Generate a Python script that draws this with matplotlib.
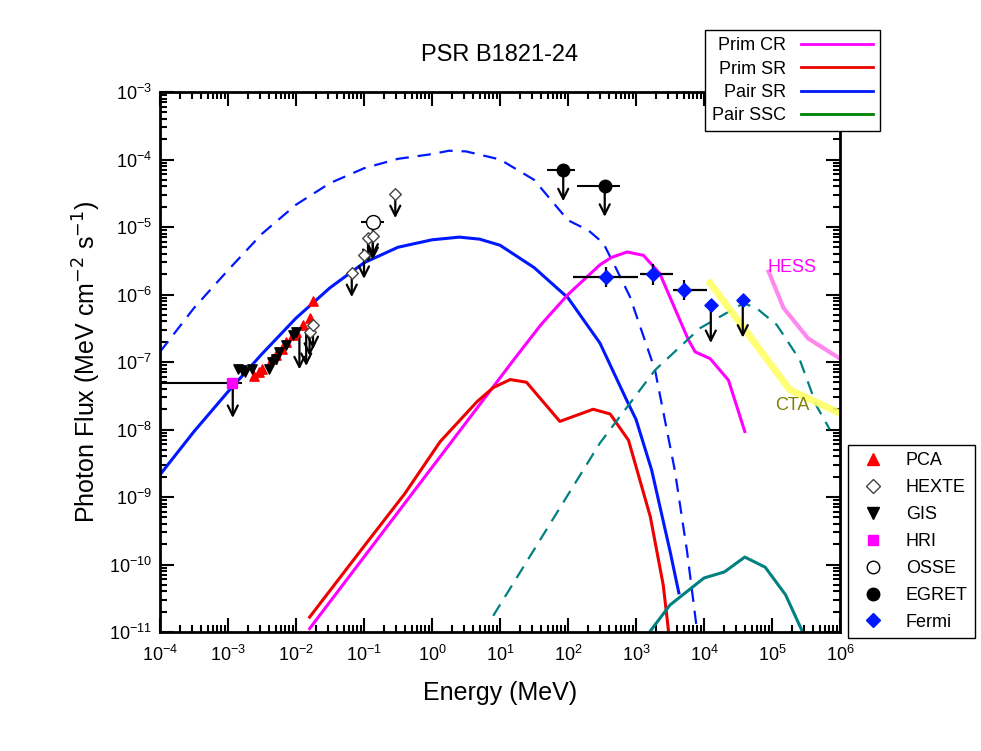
import numpy as np
import matplotlib
matplotlib.use("Agg")
import matplotlib.pyplot as plt
from matplotlib.lines import Line2D

plt.rcParams['font.family'] = 'Liberation Sans'
# model curves: log10(E/MeV), log10(flux)
pair_sr_x = [-4, -3.5, -3, -2.5, -2, -1.5, -1, -0.5, 0, 0.4, 0.7, 1, 1.5, 2, 2.47, 2.86, 3.0, 3.23, 3.5, 3.63]
pair_sr_y = [-8.67, -8.03, -7.44, -6.88, -6.35, -5.9, -5.53, -5.3, -5.19, -5.15, -5.18, -5.27, -5.6, -6.05, -6.72, -7.56, -7.85, -8.6, -9.8, -10.42]
pair_sr2_x = [-4, -3.5, -3, -2.5, -2, -1.5, -1, -0.5, 0, 0.25, 0.5, 1, 1.5, 2, 2.3, 2.52, 2.7, 2.91, 3.28, 3.57, 3.75, 3.9]
pair_sr2_y = [-6.85, -6.2, -5.64, -5.1, -4.67, -4.35, -4.13, -3.99, -3.92, -3.87, -3.88, -4.0, -4.3, -4.9, -5.05, -5.24, -5.6, -6.03, -7.12, -8.6, -9.8, -11.0]
prim_cr_x = [-1.8, 1.2, 1.6, 2.0, 2.47, 2.64, 2.87, 3.11, 3.35, 3.77, 3.87, 4.09, 4.36, 4.6]
prim_cr_y = [-10.95, -6.97, -6.45, -6.0, -5.56, -5.45, -5.37, -5.42, -5.69, -6.67, -6.85, -6.95, -7.27, -8.03]
prim_sr_x = [-1.8, -1.0, -0.4, 0.12, 0.66, 0.9, 1.15, 1.39, 1.88, 2.37, 2.62, 2.89, 3.21, 3.4, 3.48]
prim_sr_y = [-10.78, -9.73, -8.95, -8.18, -7.59, -7.38, -7.26, -7.30, -7.88, -7.70, -7.77, -8.16, -9.29, -10.3, -11.0]
ssc_d_x = [0.9, 2.47, 3.28, 3.94, 4.58, 4.77, 5.07, 5.41, 5.66, 5.85]
ssc_d_y = [-10.76, -8.2, -7.12, -6.5, -6.13, -6.2, -6.45, -6.97, -7.66, -8.0]
ssc_x = [3.2, 3.5, 4, 4.3, 4.6, 4.9, 5.2, 5.45]
ssc_y = [-11, -10.6, -10.2, -10.11, -9.89, -10.04, -10.45, -11]
cta_x = [4.09, 5.26, 6.0]
cta_y = [-5.83, -7.41, -7.76]
hess_x = [4.95, 5.17, 5.53, 6.0]
hess_y = [-5.66, -6.2, -6.65, -6.95]

# data points
pca_x = [-2.62, -2.55, -2.5, -2.35, -2.3, -2.2, -2.15, -2.05, -2.0, -1.9, -1.8, -1.75]
pca_y = [-7.2, -7.15, -7.1, -6.95, -6.9, -6.8, -6.7, -6.6, -6.55, -6.45, -6.35, -6.1]
gis_x = [-2.93, -2.85, -2.8, -2.75, -2.65, -2.4, -2.35, -2.3, -2.25, -2.15, -2.05, -2.0]
gis_y = [-7.32, -7.1, -7.12, -7.15, -7.1, -7.1, -7.0, -6.95, -6.85, -6.75, -6.6, -6.55]
gis_ul_x = [-2.93, -1.95, -1.85]
gis_ul_y = [-7.32, -6.6, -6.55]
hexte_x = [-1.18, -1.0, -0.94, -0.87, -0.54, -1.8, -1.75]
hexte_y = [-5.68, -5.41, -5.16, -5.13, -4.51, -6.55, -6.45]
hri_x, hri_y = [-2.94], [-7.31]
hri_lo, hri_hi = [-4.0], [-2.8]
osse_x, osse_y = [-0.87], [-4.93]
osse_lo, osse_hi = [-1.05], [-0.7]
egret_x = [1.93, 2.54]
egret_y = [-4.16, -4.39]
egret_lo = [1.69, 2.13]
egret_hi = [2.1, 2.76]
fermi_x = [2.56, 3.25, 3.71, 4.1, 4.57]
fermi_y = [-5.74, -5.70, -5.93, -6.16, -6.08]
fermi_lo = [2.07, 3.06, 3.54]
fermi_hi = [3.03, 3.54, 4.04]

fig = plt.figure(figsize=(9.81, 7.51), dpi=100)
ax = fig.add_axes([160/981, 119/751, 680/981, 540/751])
P = lambda a: 10**np.array(a, dtype=float)

def xe(c, lo, hi):
    c, lo, hi = P(c), P(lo), P(hi)
    return [c - lo, hi - c]

ax.plot(P(pair_sr_x), P(pair_sr_y), color='#0018ff', lw=2.2)
ax.plot(P(pair_sr2_x), P(pair_sr2_y), color='#0018ff', lw=1.6, ls=(0, (6, 4)))
ax.plot(P(prim_cr_x), P(prim_cr_y), color='#ff00ff', lw=2.2)
ax.plot(P(prim_sr_x), P(prim_sr_y), color='#ee0000', lw=2.2)
ax.plot(P(ssc_d_x), P(ssc_d_y), color='#008080', lw=1.6, ls=(0, (6, 4)))
ax.plot(P(ssc_x), P(ssc_y), color='#008080', lw=2.2)
ax.plot(P(cta_x), P(cta_y), color='#ffff66', lw=5, alpha=0.9)
ax.plot(P(hess_x), P(hess_y), color='#ff88ee', lw=3)
ax.text(10**5.3, 10**-5.6, 'HESS', color='#ff00ff', fontsize=13, ha='center', va='center')
ax.text(10**5.3, 10**-7.65, 'CTA', color='#808000', fontsize=13, ha='center', va='center')

def ul(x, y, f=0.55):
    for xi, yi in zip(x, y):
        ax.annotate('', xy=(10**xi, 10**(yi - f)), xytext=(10**xi, 10**yi),
                    arrowprops=dict(arrowstyle='->', color='k', lw=1.6, mutation_scale=18))

ax.scatter(P(pca_x), P(pca_y), marker='^', color='red', s=45, zorder=4)
ax.scatter(P(gis_x), P(gis_y), marker='v', color='k', s=45, zorder=4)
ul(gis_ul_x, gis_ul_y)
ax.scatter(P(hexte_x), P(hexte_y), marker='D', facecolor='white', edgecolor='#444', s=35, zorder=4)
ul(hexte_x, hexte_y, 0.4)
ax.errorbar(P(hri_x), P(hri_y), xerr=xe(hri_x, hri_lo, hri_hi), fmt='s', color='k',
            mfc='#ff00ff', mec='#ff00ff', ms=7, zorder=5)
ax.errorbar(P(osse_x), P(osse_y), xerr=xe(osse_x, osse_lo, osse_hi), fmt='o', color='k',
            mfc='white', ms=10, zorder=5)
ul(osse_x, osse_y)
ax.errorbar(P(egret_x), P(egret_y), xerr=xe(egret_x, egret_lo, egret_hi), fmt='o', color='k',
            ms=9, zorder=5)
ul(egret_x, egret_y, 0.5)
fx = P(fermi_x)
fy = P(fermi_y)
ax.errorbar(fx[:3], fy[:3], xerr=xe(fermi_x[:3], fermi_lo, fermi_hi),
            yerr=[fy[:3] * 0.3, fy[:3] * 0.4],
            fmt='D', color='k', mfc='#0018ff', mec='#0018ff', ms=7, lw=1.6, zorder=5)
ax.scatter(fx[3:], fy[3:], marker='D', color='#0018ff', s=45, zorder=5)
ul(fermi_x[3:], fermi_y[3:], 0.6)

ax.set_xscale('log'); ax.set_yscale('log')
ax.set_xlim(1e-4, 1e6); ax.set_ylim(1e-11, 1e-3)
ax.xaxis.set_major_locator(matplotlib.ticker.LogLocator(numticks=20))
ax.yaxis.set_major_locator(matplotlib.ticker.LogLocator(numticks=20))
ax.xaxis.set_minor_locator(matplotlib.ticker.LogLocator(subs=np.arange(2, 10), numticks=20))
ax.yaxis.set_minor_locator(matplotlib.ticker.LogLocator(subs=np.arange(2, 10), numticks=20))
ax.xaxis.set_minor_formatter(matplotlib.ticker.NullFormatter())
ax.yaxis.set_minor_formatter(matplotlib.ticker.NullFormatter())
ax.tick_params(which='both', direction='in', top=True, right=True, labelsize=13, width=1.5)
ax.tick_params(which='major', length=10)
ax.tick_params(which='minor', length=5)
ax.tick_params(axis='x', pad=9)
ax.tick_params(axis='y', pad=6)
for s in ax.spines.values():
    s.set_linewidth(2)
ax.set_xlabel('Energy (MeV)', fontsize=18, labelpad=12)
ax.set_ylabel(r'Photon Flux (MeV cm$^{-2}$ s$^{-1}$)', fontsize=18)
ax.set_title('PSR B1821-24', fontsize=17, pad=22)

h1 = [Line2D([], [], color=c, lw=2) for c in ['#ff00ff', '#ee0000', '#0018ff', 'green']]
leg1 = fig.legend(h1, ['Prim CR', 'Prim SR', 'Pair SR', 'Pair SSC'], loc='upper left',
                  bbox_to_anchor=(705/981, 1 - 30/751), markerfirst=False, fontsize=13,
                  fancybox=False, edgecolor='k', framealpha=1, handlelength=4, borderaxespad=0,
                  labelspacing=0.35)
leg1.set_zorder(20)
h2 = [Line2D([], [], ls='', marker='^', color='red', ms=8),
      Line2D([], [], ls='', marker='D', mfc='white', mec='#444', ms=7),
      Line2D([], [], ls='', marker='v', color='k', ms=8),
      Line2D([], [], ls='', marker='s', color='#ff00ff', ms=7),
      Line2D([], [], ls='', marker='o', mfc='white', mec='k', ms=9),
      Line2D([], [], ls='', marker='o', color='k', ms=9),
      Line2D([], [], ls='', marker='D', color='#0018ff', ms=7)]
leg2 = fig.legend(h2, ['PCA', 'HEXTE', 'GIS', 'HRI', 'OSSE', 'EGRET', 'Fermi'], loc='upper left',
                  bbox_to_anchor=(848/981, 1 - 445/751), fontsize=13, fancybox=False, edgecolor='k',
                  framealpha=1, borderaxespad=0, labelspacing=0.55)
leg2.set_zorder(20)
fig.savefig('out.png', dpi=100)
